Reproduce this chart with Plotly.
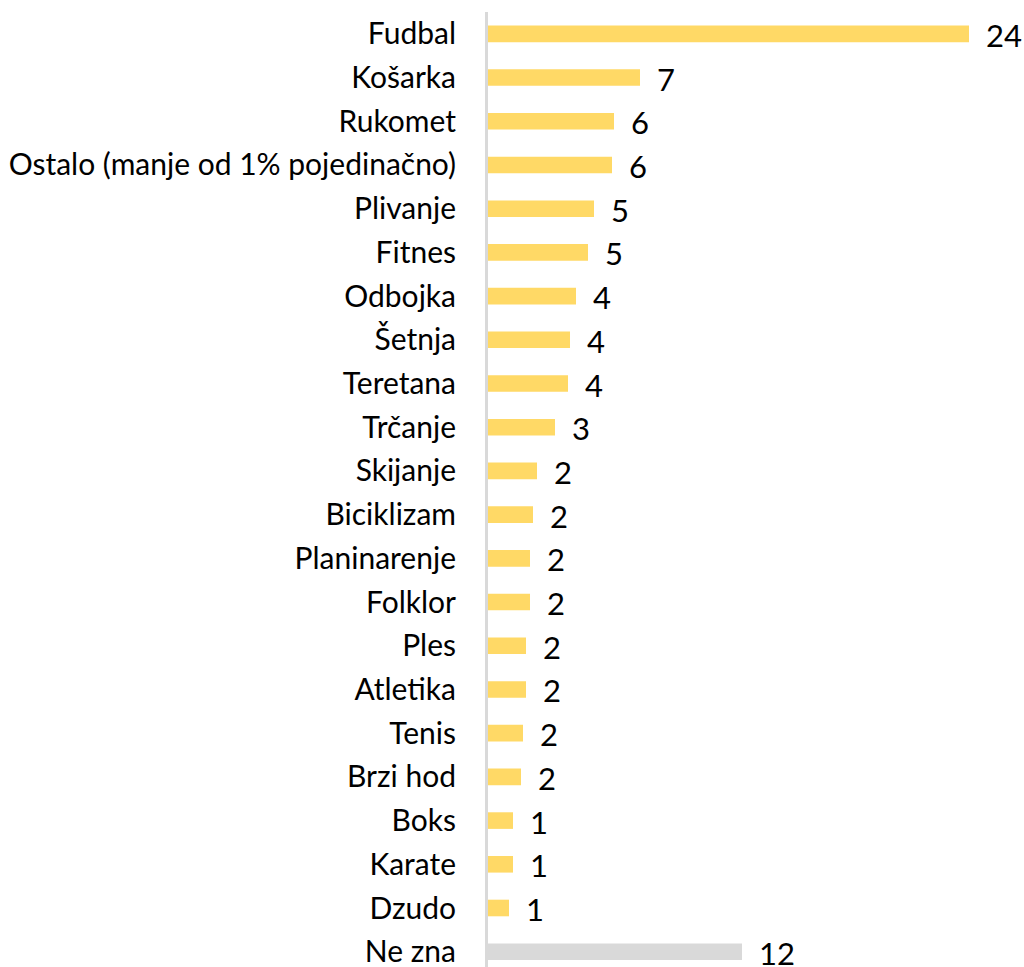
import plotly.graph_objects as go

categories = ["Fudbal", "Košarka", "Rukomet", "Ostalo (manje od 1% pojedinačno)",
              "Plivanje", "Fitnes", "Odbojka", "Šetnja", "Teretana", "Trčanje",
              "Skijanje", "Biciklizam", "Planinarenje", "Folklor", "Ples",
              "Atletika", "Tenis", "Brzi hod", "Boks", "Karate", "Dzudo", "Ne zna"]
values = [24.05, 7.6, 6.3, 6.2, 5.3, 5.0, 4.4, 4.1, 4.0, 3.35, 2.45, 2.25, 2.1,
          2.1, 1.9, 1.9, 1.75, 1.65, 1.25, 1.25, 1.05, 12.7]
labels = ["24", "7", "6", "6", "5", "5", "4", "4", "4", "3", "2", "2", "2", "2",
          "2", "2", "2", "2", "1", "1", "1", "12"]
colors = ["#FFD966"] * 21 + ["#D9D9D9"]

fig = go.Figure()
fig.add_trace(go.Bar(
    y=categories, x=values, orientation="h",
    marker=dict(color=colors, line=dict(width=0)),
    width=0.38, hoverinfo="skip",
))

for cat, val, lab in zip(categories, values, labels):
    fig.add_annotation(
        x=val, y=cat, text=lab, showarrow=False,
        xanchor="left", yanchor="middle", xshift=15, yshift=-1,
        font=dict(family="Lato", size=31, color="#000000"),
    )

fig.update_layout(
    width=1024, height=967,
    margin=dict(l=488, r=0, t=12, b=0),
    paper_bgcolor="white", plot_bgcolor="white",
    showlegend=False,
    xaxis=dict(range=[0, 26.8], showgrid=False, zeroline=False,
               showticklabels=False, showline=False, fixedrange=True),
    yaxis=dict(range=[21.35, -0.5], showgrid=False, zeroline=False,
               showline=True, linecolor="#D9D9D9", linewidth=3,
               tickfont=dict(family="Lato", size=30, color="#000000"),
               ticks="", ticklabelstandoff=23, fixedrange=True),
)

fig.write_html(
    "out.html",
    config={"displayModeBar": False, "staticPlot": True},
    post_script="document.body.style.margin='0';document.body.style.overflow='hidden';",
)
